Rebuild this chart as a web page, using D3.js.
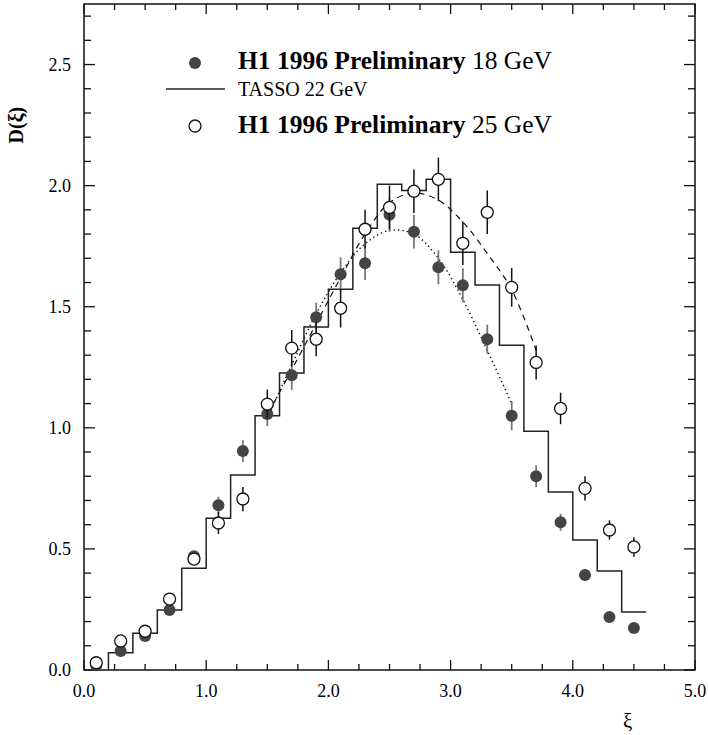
<!DOCTYPE html>
<html>
<head>
<meta charset="utf-8">
<script src="https://cdn.jsdelivr.net/npm/d3@7"></script>
<style>
    body { margin: 0; background: #fff; }
    svg { display: block; }
    text { font-family: "Liberation Serif", "DejaVu Serif", serif; }
</style>
</head>
<body>
<svg id="chart" width="708" height="735"></svg>
<script>
// Bin centres of the H1 measurements
var xiPoints = [0.1, 0.3, 0.5, 0.7, 0.9, 1.1, 1.3, 1.5, 1.7, 1.9, 2.1, 2.3,
                2.5, 2.7, 2.9, 3.1, 3.3, 3.5, 3.7, 3.9, 4.1, 4.3, 4.5];

// H1 1996 Preliminary, 18 GeV (filled points)
var h1At18 = [0.02, 0.078, 0.14, 0.248, 0.47, 0.68, 0.904, 1.057, 1.217, 1.457, 1.634, 1.68,
              1.88, 1.81, 1.663, 1.589, 1.366, 1.05, 0.80, 0.61, 0.392, 0.219, 0.173];
var h1At18Err = [0.005, 0.01, 0.01, 0.015, 0.02, 0.035, 0.045, 0.05, 0.06, 0.06, 0.07, 0.07,
                 0.07, 0.07, 0.07, 0.07, 0.06, 0.06, 0.045, 0.035, 0.025, 0.01, 0.01];

// H1 1996 Preliminary, 25 GeV (open points)
var h1At25 = [0.03, 0.12, 0.16, 0.293, 0.458, 0.607, 0.706, 1.098, 1.329, 1.366, 1.494, 1.82,
              1.91, 1.977, 2.026, 1.762, 1.89, 1.58, 1.27, 1.08, 0.75, 0.578, 0.508];
var h1At25Err = [0.005, 0.01, 0.01, 0.02, 0.02, 0.045, 0.05, 0.06, 0.075, 0.07, 0.08, 0.08,
                 0.09, 0.09, 0.09, 0.09, 0.09, 0.08, 0.07, 0.065, 0.05, 0.04, 0.04];

// TASSO 22 GeV histogram: bin edges and contents
var tassoEdges = [0.2, 0.4, 0.6, 0.8, 1.0, 1.2, 1.4, 1.6, 1.8, 2.0, 2.2, 2.4,
                  2.6, 2.8, 3.0, 3.2, 3.4, 3.6, 3.8, 4.0, 4.2, 4.4, 4.6];
var tassoValues = [0.071, 0.152, 0.248, 0.42, 0.627, 0.805, 1.05, 1.226, 1.416, 1.572, 1.824,
                   2.006, 1.98, 2.026, 1.725, 1.59, 1.341, 0.986, 0.735, 0.537, 0.409, 0.239];

// Fitted curves
var fit18X = [1.5, 1.7, 1.9, 2.1, 2.3, 2.5, 2.7, 2.9, 3.1, 3.3, 3.5];
var fit18Y = [1.04, 1.26, 1.47, 1.64, 1.76, 1.815, 1.80, 1.70, 1.53, 1.32, 1.10];
var fit25X = [1.55, 1.7, 1.9, 2.1, 2.3, 2.5, 2.7, 2.9, 3.1, 3.3, 3.5, 3.7];
var fit25Y = [1.10, 1.24, 1.43, 1.62, 1.80, 1.93, 1.97, 1.94, 1.85, 1.72, 1.57, 1.32];

// Tick labels
var xTickLabels = ['0.0', '1.0', '2.0', '3.0', '4.0', '5.0'];
var yTickLabels = ['0.0', '0.5', '1.0', '1.5', '2.0', '2.5'];

var svg = d3.select('#chart');
var margin = { top: 4, right: 13, bottom: 65, left: 84 };
var width = 708 - margin.left - margin.right,
    height = 735 - margin.top - margin.bottom;

var x = d3.scaleLinear().domain([0, 5]).range([0, width]);
var y = d3.scaleLinear().domain([0, 2.75]).range([height, 0]);

var g = svg.append('g')
    .attr('transform', `translate(${margin.left},${margin.top})`);

// Frame
g.append('rect')
    .attr('width', width).attr('height', height)
    .attr('fill', 'none').attr('stroke', '#111').attr('stroke-width', 1.5);

// Inward ticks on all four sides
var xMinor = d3.range(0, 5.001, 0.25),
    yMinor = d3.range(0, 2.75, 0.1);

function isMajor(v, step) { return Math.abs(v / step - Math.round(v / step)) < 1e-6; }

var tickGroup = g.append('g').attr('stroke', '#111').attr('stroke-width', 1.3);
xMinor.forEach(function(v) {
    var len = isMajor(v, 1) ? 10 : 6;
    tickGroup.append('line').attr('x1', x(v)).attr('x2', x(v))
        .attr('y1', height).attr('y2', height - len);
    tickGroup.append('line').attr('x1', x(v)).attr('x2', x(v))
        .attr('y1', 0).attr('y2', len);
});
yMinor.forEach(function(v) {
    var len = isMajor(v, 0.5) ? 11 : 7;
    tickGroup.append('line').attr('y1', y(v)).attr('y2', y(v))
        .attr('x1', 0).attr('x2', len);
    tickGroup.append('line').attr('y1', y(v)).attr('y2', y(v))
        .attr('x1', width).attr('x2', width - len);
});

// Tick labels
g.selectAll('.xlab').data(xTickLabels).enter().append('text')
    .attr('x', d => x(+d)).attr('y', height + 27)
    .attr('text-anchor', 'middle').style('font-size', '18px')
    .text(d => d);
g.selectAll('.ylab').data(yTickLabels).enter().append('text')
    .attr('x', -13).attr('y', d => y(+d) + 6)
    .attr('text-anchor', 'end').style('font-size', '18px')
    .text(d => d);

// Axis titles
g.append('text')
    .attr('x', x(4.45)).attr('y', height + 58)
    .attr('text-anchor', 'middle').style('font-size', '21px')
    .text('ξ');
g.append('text')
    .attr('transform', `translate(${-61},${y(2.25)}) rotate(-90)`)
    .attr('text-anchor', 'middle').style('font-size', '20px').style('font-weight', 'bold')
    .text('D(ξ)');

// TASSO histogram
var histPts = [[tassoEdges[0], 0]];
tassoValues.forEach(function(v, i) {
    histPts.push([tassoEdges[i], v]);
    histPts.push([tassoEdges[i + 1], v]);
});
g.append('path')
    .attr('d', d3.line().x(d => x(d[0])).y(d => y(d[1]))(histPts))
    .attr('fill', 'none').attr('stroke', '#222').attr('stroke-width', 1.5);

// Fit curves
var curve = d3.line().x(d => x(d[0])).y(d => y(d[1])).curve(d3.curveCatmullRom);
g.append('path')
    .attr('d', curve(d3.zip(fit18X, fit18Y)))
    .attr('fill', 'none').attr('stroke', '#111').attr('stroke-width', 1.4)
    .attr('stroke-dasharray', '1.4,3');
g.append('path')
    .attr('d', curve(d3.zip(fit25X, fit25Y)))
    .attr('fill', 'none').attr('stroke', '#111').attr('stroke-width', 1.2)
    .attr('stroke-dasharray', '6,5');

// 18 GeV points: grey error bars, filled circles
var d18 = d3.zip(xiPoints, h1At18, h1At18Err);
g.append('g').selectAll('line').data(d18).enter().append('line')
    .attr('x1', d => x(d[0])).attr('x2', d => x(d[0]))
    .attr('y1', d => y(d[1] - d[2])).attr('y2', d => y(d[1] + d[2]))
    .attr('stroke', '#777').attr('stroke-width', 1.8);
g.append('g').selectAll('circle').data(d18).enter().append('circle')
    .attr('cx', d => x(d[0])).attr('cy', d => y(d[1])).attr('r', 6)
    .attr('fill', '#444');

// 25 GeV points: black error bars, open circles
var d25 = d3.zip(xiPoints, h1At25, h1At25Err);
g.append('g').selectAll('line').data(d25).enter().append('line')
    .attr('x1', d => x(d[0])).attr('x2', d => x(d[0]))
    .attr('y1', d => y(d[1] - d[2])).attr('y2', d => y(d[1] + d[2]))
    .attr('stroke', '#111').attr('stroke-width', 1.5);
g.append('g').selectAll('circle').data(d25).enter().append('circle')
    .attr('cx', d => x(d[0])).attr('cy', d => y(d[1])).attr('r', 6)
    .attr('fill', '#fff').attr('stroke', '#111').attr('stroke-width', 1.3);

// Legend: the H1 rows are set larger than the TASSO row
var legend = svg.append('g');
legend.append('circle').attr('cx', 195).attr('cy', 63).attr('r', 6).attr('fill', '#444');
legend.append('line').attr('x1', 166).attr('x2', 225).attr('y1', 89).attr('y2', 89)
    .attr('stroke', '#222').attr('stroke-width', 1.3);
legend.append('circle').attr('cx', 195).attr('cy', 126).attr('r', 6)
    .attr('fill', '#fff').attr('stroke', '#111').attr('stroke-width', 1.3);

function legendText(baseline, size, bold, plain) {
    var t = legend.append('text').attr('x', 238).attr('y', baseline)
        .style('font-size', size + 'px');
    if (bold) t.append('tspan').style('font-weight', 'bold').text(bold + ' ');
    t.append('tspan').text(plain);
}
legendText(69, 25.5, 'H1 1996 Preliminary', '18 GeV');
legendText(96, 20, null, 'TASSO 22 GeV');
legendText(133, 25.5, 'H1 1996 Preliminary', '25 GeV');
</script>
</body>
</html>
